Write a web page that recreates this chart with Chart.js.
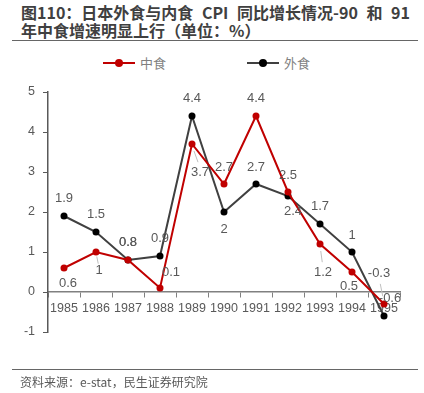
<!DOCTYPE html>
<html lang="zh">
<head>
<meta charset="UTF-8">
<title>日本外食与内食 CPI</title>
<script src="https://cdn.jsdelivr.net/npm/chart.js@4.4.1/dist/chart.umd.min.js"></script>
<style>
  html, body { margin: 0; padding: 0; background: #fff; }
  body { width: 424px; height: 393px; position: relative; overflow: hidden;
         font-family: "Noto Sans CJK SC", sans-serif; }
  .title { position: absolute; left: 21px; top: 3px; font-size: 16px; font-weight: bold;
           color: #404040; line-height: 18px; white-space: nowrap; word-spacing: 5px; }
  .rule { position: absolute; left: 12px; width: 406px; height: 0; border-top: 1.5px solid #666; }
  .legend { position: absolute; top: 54px; font-size: 13px; color: #7f7f7f; line-height: 18px; }
  .legend i { display: inline-block; position: relative; width: 32px; height: 2px; vertical-align: middle;
              margin-right: 5px; top: -1px; }
  .legend i b { position: absolute; left: 12px; top: -3px; width: 8px; height: 8px; border-radius: 50%; }
  .source { position: absolute; left: 20px; top: 374px; font-size: 12px; color: #595959; line-height: 16px; }
  canvas { position: absolute; left: 0; top: 0; }
</style>
</head>
<body>
<div class="title">图110：日本外食与内食 CPI 同比增长情况-90 和 91<br>年中食增速明显上行（单位：%）</div>
<div class="rule" style="top:40px"></div>
<div class="legend" style="left:103px"><i style="background:#c00000"><b style="background:#c00000"></b></i>中食</div>
<div class="legend" style="left:247px"><i style="background:#404040"><b style="background:#000"></b></i>外食</div>
<canvas id="c" width="424" height="393"></canvas>
<div class="rule" style="top:369px"></div>
<div class="source">资料来源：e-stat，民生证券研究院</div>
<script>
// 数据
const years = ['1985', '1986', '1987', '1988', '1989', '1990', '1991', '1992', '1993', '1994', '1995'];
const zhongshi = [0.6, 1, 0.8, 0.1, 3.7, 2.7, 4.4, 2.5, 1.2, 0.5, -0.3];
const waishi = [1.9, 1.5, 0.8, 0.9, 4.4, 2, 2.7, 2.4, 1.7, 1, -0.6];
const yTicks = [-1, 0, 1, 2, 3, 4, 5];

// label offsets relative to each point [dx, dy]
const redOffsets = [[4, 15], [3, 18], [0, -18], [11, -16], [8, 28], [0, -17], [0, -18], [0, -17], [3, 28], [-3, 14], [-5, -31]];
const blackOffsets = [[0, -18], [0, -18], [0, -18], [0, -18], [0, -18], [0, 17], [0, -17], [5, 15], [0, -18], [0, -17], [6, -18]];
const redLeaders = [false, true, false, false, true, false, false, false, true, false, true];

const labelPlugin = {
  id: 'pointLabels',
  afterDatasetsDraw(chart) {
    const ctx = chart.ctx;
    ctx.save();
    ctx.font = '13px "Liberation Sans", sans-serif';
    ctx.textAlign = 'center';
    ctx.textBaseline = 'middle';
    chart.data.datasets.forEach((ds, i) => {
      const meta = chart.getDatasetMeta(i);
      const offs = i === 0 ? redOffsets : blackOffsets;
      meta.data.forEach((pt, j) => {
        const [dx, dy] = offs[j];
        const lx = pt.x + dx, ly = pt.y + dy;
        if (i === 0 && redLeaders[j]) {
          ctx.strokeStyle = '#bfbfbf';
          ctx.lineWidth = 1;
          ctx.beginPath();
          ctx.moveTo(pt.x + dx * 0.25, pt.y + dy * 0.25);
          ctx.lineTo(lx - dx * 0.25, ly - dy * 0.35);
          ctx.stroke();
        }
        ctx.fillStyle = '#595959';
        ctx.fillText(String(ds.data[j]), lx, ly);
      });
    });
    ctx.restore();
  }
};

new Chart(document.getElementById('c'), {
  type: 'line',
  data: {
    labels: years,
    datasets: [
      { label: '中食', data: zhongshi, borderColor: '#c00000', backgroundColor: '#c00000',
        borderWidth: 2, pointRadius: 3.5, pointBackgroundColor: '#c00000', pointBorderWidth: 0, tension: 0 },
      { label: '外食', data: waishi, borderColor: '#404040', backgroundColor: '#000',
        borderWidth: 2, pointRadius: 3.5, pointBackgroundColor: '#000', pointBorderWidth: 0, tension: 0 }
    ]
  },
  options: {
    responsive: false,
    animation: false,
    layout: { padding: { left: 0, top: 92, right: 24, bottom: 61 } },
    plugins: { legend: { display: false }, tooltip: { enabled: false } },
    scales: {
      x: {
        position: { y: 0 },
        offset: true,
        grid: { drawOnChartArea: false, drawTicks: true, tickLength: 5, color: '#808080', offset: true },
        border: { color: '#808080', width: 1.5 },
        ticks: { color: '#595959', font: { family: '"Liberation Sans", sans-serif', size: 12.5 }, padding: 4, maxRotation: 0, autoSkip: false }
      },
      y: {
        min: -1, max: 5,
        afterBuildTicks: s => { s.ticks = yTicks.map(v => ({ value: v })); },
        afterFit: s => { s.width = 48; },
        grid: { drawOnChartArea: false, drawTicks: true, tickLength: 5, color: '#595959' },
        border: { color: '#595959', width: 1.5 },
        ticks: { color: '#595959', font: { family: '"Liberation Sans", sans-serif', size: 12.5 }, padding: 8 }
      }
    }
  },
  plugins: [labelPlugin]
});
</script>
</body>
</html>
